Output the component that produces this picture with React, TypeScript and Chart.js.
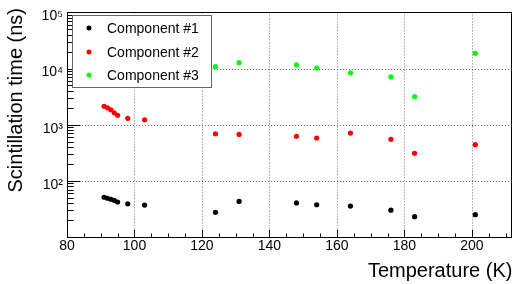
import React, { useEffect, useRef } from "react";
import { Chart, registerables } from "chart.js";

Chart.register(...registerables);

// ---- data ----
const temps12 = [91, 92, 93, 94, 95, 98, 103, 124, 131, 148, 154, 164, 176, 183, 201];
const component1 = [51, 49, 47, 45, 42, 39, 37, 27.5, 43, 40.5, 37.5, 35.5, 30, 23, 25];
const component2 = [2130, 2000, 1840, 1630, 1470, 1300, 1220, 690, 670, 620, 580, 710, 550, 310, 440];
const temps3 = [124, 131, 148, 154, 164, 176, 183, 201];
const component3 = [10800, 12700, 11600, 10200, 8400, 7100, 3150, 18700];

const seriesLabels = ["Component #1", "Component #2", "Component #3"];
const seriesColors = ["#000000", "#ff0000", "#00ff00"];

const xTickValues = [80, 100, 120, 140, 160, 180, 200];
const xMinorStep = 5;
const xMin = 80;
const xMax = 212;
const yTickValues = [100, 1000, 10000, 100000];
const yTickLabels = ["10²", "10³", "10⁴", "10⁵"];
const yMin = 10;
const yMax = 100000;

const xTitle = "Temperature (K)";
const yTitle = "Scintillation time (ns)";

const FONT = "'Liberation Sans', Arial, Helvetica, sans-serif";

export default function App() {
  const ref = useRef<HTMLCanvasElement>(null);

  useEffect(() => {
    document.body.style.margin = "0";
    const canvas = ref.current!;

    const rootStyle = {
      id: "rootStyle",
      beforeDatasetsDraw(chart: any) {
        const { ctx, chartArea: a } = chart;
        const xs = chart.scales.x;
        const ys = chart.scales.y;
        ctx.save();
        // dotted grid
        ctx.strokeStyle = "rgba(0,0,0,0.55)";
        ctx.lineWidth = 1;
        ctx.setLineDash([1, 2]);
        xTickValues.forEach((v) => {
          const px = Math.round(xs.getPixelForValue(v)) + 0.5;
          if (px <= a.left + 1 || px >= a.right - 1) return;
          ctx.beginPath();
          ctx.moveTo(px, a.top);
          ctx.lineTo(px, a.bottom);
          ctx.stroke();
        });
        for (let d = 1; d <= 5; d++) {
          const v = Math.pow(10, d);
          const py = Math.round(ys.getPixelForValue(v)) + 0.5;
          if (py <= a.top + 1 || py >= a.bottom - 1) continue;
          ctx.beginPath();
          ctx.moveTo(a.left, py);
          ctx.lineTo(a.right, py);
          ctx.stroke();
        }
        ctx.setLineDash([]);
        ctx.strokeStyle = "#000";
        // x ticks (bottom, pointing up)
        for (let v = xMin; v <= xMax; v += xMinorStep) {
          const px = Math.round(xs.getPixelForValue(v)) + 0.5;
          const major = xTickValues.includes(v);
          const len = major ? 7 : 3.5;
          ctx.beginPath();
          ctx.moveTo(px, a.bottom);
          ctx.lineTo(px, a.bottom - len);
          ctx.stroke();
        }
        // y ticks (left, pointing right)
        for (let d = 1; d <= 5; d++) {
          for (let m = 1; m <= 9; m++) {
            const v = m * Math.pow(10, d);
            if (v < yMin || v > yMax) continue;
            const py = Math.round(ys.getPixelForValue(v)) + 0.5;
            const len = m === 1 ? 13.5 : 6.7;
            ctx.beginPath();
            ctx.moveTo(a.left, py);
            ctx.lineTo(a.left + len, py);
            ctx.stroke();
          }
        }
        // frame
        ctx.strokeStyle = "#000";
        ctx.strokeRect(
          Math.round(a.left) + 0.5,
          Math.round(a.top) + 0.5,
          Math.round(a.right - a.left) - 1,
          Math.round(a.bottom - a.top)
        );
        ctx.restore();
      },
      afterDatasetsDraw(chart: any) {
        const { ctx } = chart;
        ctx.save();
        // legend box
        const lx = 72, ly = 15, lw = 139, lh = 72;
        ctx.fillStyle = "#fff";
        ctx.fillRect(lx, ly, lw, lh);
        ctx.strokeStyle = "#666";
        ctx.lineWidth = 1;
        ctx.strokeRect(lx + 0.5, ly + 0.5, lw, lh);
        const rows = [28, 52, 75];
        ctx.font = `14px ${FONT}`;
        ctx.textBaseline = "middle";
        ctx.textAlign = "left";
        chart.data.datasets.forEach((ds: any, i: number) => {
          ctx.fillStyle = ds.backgroundColor;
          ctx.beginPath();
          ctx.arc(89, rows[i], 2.5, 0, Math.PI * 2);
          ctx.fill();
          ctx.fillStyle = "#000";
          ctx.fillText(ds.label, 107, rows[i] + 1);
        });
        ctx.restore();
      },
      afterDraw(chart: any) {
        const { ctx, chartArea: a } = chart;
        ctx.save();
        ctx.fillStyle = "#000";
        ctx.font = `20px ${FONT}`;
        ctx.textBaseline = "alphabetic";
        ctx.textAlign = "right";
        ctx.fillText(xTitle, a.right, 277);
        ctx.translate(22, 8);
        ctx.rotate(-Math.PI / 2);
        ctx.textAlign = "right";
        ctx.fillText(yTitle, 0, 0);
        ctx.restore();
      },
    };

    const chart = new Chart(canvas, {
      type: "scatter",
      data: {
        datasets: [
          {
            label: seriesLabels[0],
            data: temps12.map((t, i) => ({ x: t, y: component1[i] })),
            backgroundColor: seriesColors[0],
            borderColor: seriesColors[0],
          },
          {
            label: seriesLabels[1],
            data: temps12.map((t, i) => ({ x: t, y: component2[i] })),
            backgroundColor: seriesColors[1],
            borderColor: seriesColors[1],
          },
          {
            label: seriesLabels[2],
            data: temps3.map((t, i) => ({ x: t, y: component3[i] })),
            backgroundColor: seriesColors[2],
            borderColor: seriesColors[2],
          },
        ],
      },
      options: {
        responsive: false,
        animation: false,
        devicePixelRatio: 1,
        layout: { padding: { left: 0, top: 7, right: 2, bottom: 0 } },
        elements: { point: { radius: 2.6, borderWidth: 0, hoverRadius: 2.6 } },
        plugins: { legend: { display: false }, tooltip: { enabled: false } },
        scales: {
          x: {
            type: "linear",
            min: xMin,
            max: xMax,
            grid: { display: false, drawTicks: false },
            border: { display: false },
            afterBuildTicks: (s: any) => {
              s.ticks = xTickValues.map((v) => ({ value: v }));
            },
            afterFit: (s: any) => {
              s.height = 47;
            },
            ticks: {
              autoSkip: false,
              maxRotation: 0,
              padding: 1,
              color: "#000",
              font: { family: FONT, size: 14 },
              callback: (v: any) => String(v),
            },
          },
          y: {
            type: "logarithmic",
            min: yMin,
            max: yMax,
            grid: { display: false, drawTicks: false },
            border: { display: false },
            afterBuildTicks: (s: any) => {
              s.ticks = yTickValues.map((v) => ({ value: v }));
            },
            afterFit: (s: any) => {
              s.width = 67;
            },
            ticks: {
              autoSkip: false,
              padding: 4,
              labelOffset: 4,
              color: "#000",
              font: { family: FONT, size: 14 },
              callback: (v: any) => {
                const i = yTickValues.indexOf(Number(v));
                return i >= 0 ? yTickLabels[i] : "";
              },
            },
          },
        },
      },
      plugins: [rootStyle],
    });

    return () => chart.destroy();
  }, []);

  return (
    <canvas
      ref={ref}
      width={515}
      height={284}
      style={{ display: "block", width: 515, height: 284 }}
    />
  );
}
